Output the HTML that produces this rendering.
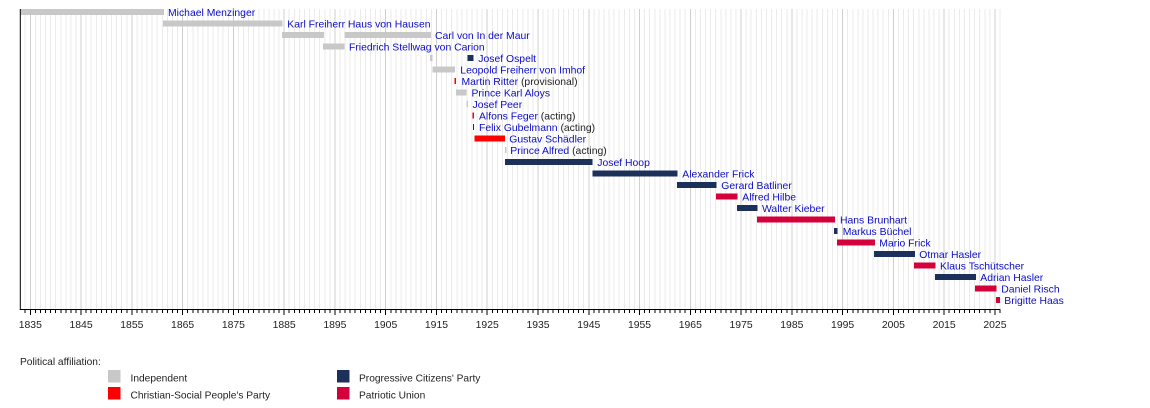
<!DOCTYPE html>
<html>
<head>
<meta charset="utf-8">
<style>
html,body{margin:0;padding:0;background:#fff;}
body{width:1150px;height:408px;overflow:hidden;}
svg{display:block;}
text{font-family:"Liberation Sans",Arial,sans-serif;}
.n{fill:#0c0cc8;font-size:10.4px;}
.s{fill:#222;}
.t{fill:#222;font-size:10.4px;}
.l{fill:#222;font-size:10.2px;}
</style>
</head>
<body>
<svg width="1150" height="408" viewBox="0 0 1150 408" xmlns="http://www.w3.org/2000/svg">
<rect width="1150" height="408" fill="#fff"/>
<!-- minor grid -->
<path shape-rendering="crispEdges" stroke="#ebebeb" stroke-width="1" fill="none" d="M25.23 9v300
m5.077-300v300m5.077-300v300m5.077-300v300m5.077-300v300m5.077-300v300m5.077-300v300m5.077-300v300m5.077-300v300
m5.077-300v300m5.077-300v300m5.077-300v300m5.077-300v300m5.077-300v300m5.077-300v300m5.077-300v300m5.077-300v300
m5.077-300v300m5.077-300v300m5.077-300v300m5.077-300v300m5.077-300v300m5.077-300v300m5.077-300v300m5.077-300v300
m5.077-300v300m5.077-300v300m5.077-300v300m5.077-300v300m5.077-300v300m5.077-300v300m5.077-300v300m5.077-300v300
m5.077-300v300m5.077-300v300m5.077-300v300m5.077-300v300m5.077-300v300m5.077-300v300m5.077-300v300m5.077-300v300
m5.077-300v300m5.077-300v300m5.077-300v300m5.077-300v300m5.077-300v300m5.077-300v300m5.077-300v300m5.077-300v300
m5.077-300v300m5.077-300v300m5.077-300v300m5.077-300v300m5.077-300v300m5.077-300v300m5.077-300v300m5.077-300v300
m5.077-300v300m5.077-300v300m5.077-300v300m5.077-300v300m5.077-300v300m5.077-300v300m5.077-300v300m5.077-300v300
m5.077-300v300m5.077-300v300m5.077-300v300m5.077-300v300m5.077-300v300m5.077-300v300m5.077-300v300m5.077-300v300
m5.077-300v300m5.077-300v300m5.077-300v300m5.077-300v300m5.077-300v300m5.077-300v300m5.077-300v300m5.077-300v300
m5.077-300v300m5.077-300v300m5.077-300v300m5.077-300v300m5.077-300v300m5.077-300v300m5.077-300v300m5.077-300v300
m5.077-300v300m5.077-300v300m5.077-300v300m5.077-300v300m5.077-300v300m5.077-300v300m5.077-300v300m5.077-300v300
m5.077-300v300m5.077-300v300m5.077-300v300m5.077-300v300m5.077-300v300m5.077-300v300m5.077-300v300m5.077-300v300
m5.077-300v300m5.077-300v300m5.077-300v300m5.077-300v300m5.077-300v300m5.077-300v300m5.077-300v300m5.077-300v300
m5.077-300v300m5.077-300v300m5.077-300v300m5.077-300v300m5.077-300v300m5.077-300v300m5.077-300v300m5.077-300v300
m5.077-300v300m5.077-300v300m5.077-300v300m5.077-300v300m5.077-300v300m5.077-300v300m5.077-300v300m5.077-300v300
m5.077-300v300m5.077-300v300m5.077-300v300m5.077-300v300m5.077-300v300m5.077-300v300m5.077-300v300m5.077-300v300
m5.077-300v300m5.077-300v300m5.077-300v300m5.077-300v300m5.077-300v300m5.077-300v300m5.077-300v300m5.077-300v300
m5.077-300v300m5.077-300v300m5.077-300v300m5.077-300v300m5.077-300v300m5.077-300v300m5.077-300v300m5.077-300v300
m5.077-300v300m5.077-300v300m5.077-300v300m5.077-300v300m5.077-300v300m5.077-300v300m5.077-300v300m5.077-300v300
m5.077-300v300m5.077-300v300m5.077-300v300m5.077-300v300m5.077-300v300m5.077-300v300m5.077-300v300m5.077-300v300
m5.077-300v300m5.077-300v300m5.077-300v300m5.077-300v300m5.077-300v300m5.077-300v300m5.077-300v300m5.077-300v300
m5.077-300v300m5.077-300v300m5.077-300v300m5.077-300v300m5.077-300v300m5.077-300v300m5.077-300v300m5.077-300v300
m5.077-300v300m5.077-300v300m5.077-300v300m5.077-300v300m5.077-300v300m5.077-300v300m5.077-300v300m5.077-300v300"/>
<!-- major grid -->
<path shape-rendering="crispEdges" stroke="#cfcfcf" stroke-width="1" fill="none" d="M30.3 9v300m50.77-300v300m50.77-300v300m50.77-300v300m50.77-300v300m50.77-300v300m50.77-300v300m50.77-300v300m50.77-300v300m50.77-300v300m50.77-300v300m50.77-300v300m50.77-300v300m50.77-300v300m50.77-300v300m50.77-300v300m50.77-300v300m50.77-300v300m50.77-300v300m50.77-300v300"/>

<!-- bars -->
<g shape-rendering="crispEdges">
<rect x="20.2" y="9" width="143.8" height="6" fill="#c8c8c8"/>
<rect x="163" y="20.52" width="119.7" height="6" fill="#c8c8c8"/>
<rect x="282" y="32.04" width="42" height="6" fill="#c8c8c8"/>
<rect x="344.7" y="32.04" width="86.3" height="6" fill="#c8c8c8"/>
<rect x="323" y="43.56" width="21.3" height="6" fill="#c8c8c8"/>
<rect x="430" y="55.08" width="2.3" height="6" fill="#c8c8c8"/>
<rect x="467.7" y="55.08" width="5.6" height="6" fill="#1c315a"/>
<rect x="432.3" y="66.6" width="22.7" height="6" fill="#c8c8c8"/>
<rect x="454.7" y="78.12" width="1.5" height="6" fill="#ff0000"/>
<rect x="456" y="89.64" width="10.7" height="6" fill="#c8c8c8"/>
<rect x="466.7" y="101.16" width="1.4" height="6" fill="#c8c8c8"/>
<rect x="472.7" y="112.68" width="1.4" height="6" fill="#ff0000"/>
<rect x="473.2" y="124.2" width="1" height="6" fill="#1c315a"/>
<rect x="474.3" y="135.72" width="30.7" height="6" fill="#ff0000"/>
<rect x="505" y="147.24" width="1.7" height="6" fill="#c8c8c8"/>
<rect x="505" y="158.76" width="87.7" height="6" fill="#1c315a"/>
<rect x="592.3" y="170.28" width="85.4" height="6" fill="#1c315a"/>
<rect x="677" y="181.8" width="39.7" height="6" fill="#1c315a"/>
<rect x="716" y="193.32" width="21.7" height="6" fill="#d4003c"/>
<rect x="737" y="204.84" width="20.7" height="6" fill="#1c315a"/>
<rect x="757" y="216.36" width="78" height="6" fill="#d4003c"/>
<rect x="834" y="227.88" width="3.7" height="6" fill="#1c315a"/>
<rect x="837" y="239.4" width="38" height="6" fill="#d4003c"/>
<rect x="874" y="250.92" width="41" height="6" fill="#1c315a"/>
<rect x="914" y="262.44" width="21.7" height="6" fill="#d4003c"/>
<rect x="935" y="273.96" width="41" height="6" fill="#1c315a"/>
<rect x="975" y="285.48" width="21.7" height="6" fill="#d4003c"/>
<rect x="996" y="297" width="4" height="6" fill="#d4003c"/>
</g>

<!-- axes -->
<rect x="19.8" y="9" width="1" height="301" fill="#000"/>
<rect x="19.8" y="309" width="980.6" height="1" fill="#000"/>
<path shape-rendering="crispEdges" stroke="#000" stroke-width="1" fill="none" d="M25.23 310v3
m5.077-3v3m5.077-3v3m5.077-3v3m5.077-3v3m5.077-3v3m5.077-3v3m5.077-3v3m5.077-3v3
m5.077-3v3m5.077-3v3m5.077-3v3m5.077-3v3m5.077-3v3m5.077-3v3m5.077-3v3m5.077-3v3
m5.077-3v3m5.077-3v3m5.077-3v3m5.077-3v3m5.077-3v3m5.077-3v3m5.077-3v3m5.077-3v3
m5.077-3v3m5.077-3v3m5.077-3v3m5.077-3v3m5.077-3v3m5.077-3v3m5.077-3v3m5.077-3v3
m5.077-3v3m5.077-3v3m5.077-3v3m5.077-3v3m5.077-3v3m5.077-3v3m5.077-3v3m5.077-3v3
m5.077-3v3m5.077-3v3m5.077-3v3m5.077-3v3m5.077-3v3m5.077-3v3m5.077-3v3m5.077-3v3
m5.077-3v3m5.077-3v3m5.077-3v3m5.077-3v3m5.077-3v3m5.077-3v3m5.077-3v3m5.077-3v3
m5.077-3v3m5.077-3v3m5.077-3v3m5.077-3v3m5.077-3v3m5.077-3v3m5.077-3v3m5.077-3v3
m5.077-3v3m5.077-3v3m5.077-3v3m5.077-3v3m5.077-3v3m5.077-3v3m5.077-3v3m5.077-3v3
m5.077-3v3m5.077-3v3m5.077-3v3m5.077-3v3m5.077-3v3m5.077-3v3m5.077-3v3m5.077-3v3
m5.077-3v3m5.077-3v3m5.077-3v3m5.077-3v3m5.077-3v3m5.077-3v3m5.077-3v3m5.077-3v3
m5.077-3v3m5.077-3v3m5.077-3v3m5.077-3v3m5.077-3v3m5.077-3v3m5.077-3v3m5.077-3v3
m5.077-3v3m5.077-3v3m5.077-3v3m5.077-3v3m5.077-3v3m5.077-3v3m5.077-3v3m5.077-3v3
m5.077-3v3m5.077-3v3m5.077-3v3m5.077-3v3m5.077-3v3m5.077-3v3m5.077-3v3m5.077-3v3
m5.077-3v3m5.077-3v3m5.077-3v3m5.077-3v3m5.077-3v3m5.077-3v3m5.077-3v3m5.077-3v3
m5.077-3v3m5.077-3v3m5.077-3v3m5.077-3v3m5.077-3v3m5.077-3v3m5.077-3v3m5.077-3v3
m5.077-3v3m5.077-3v3m5.077-3v3m5.077-3v3m5.077-3v3m5.077-3v3m5.077-3v3m5.077-3v3
m5.077-3v3m5.077-3v3m5.077-3v3m5.077-3v3m5.077-3v3m5.077-3v3m5.077-3v3m5.077-3v3
m5.077-3v3m5.077-3v3m5.077-3v3m5.077-3v3m5.077-3v3m5.077-3v3m5.077-3v3m5.077-3v3
m5.077-3v3m5.077-3v3m5.077-3v3m5.077-3v3m5.077-3v3m5.077-3v3m5.077-3v3m5.077-3v3
m5.077-3v3m5.077-3v3m5.077-3v3m5.077-3v3m5.077-3v3m5.077-3v3m5.077-3v3m5.077-3v3
m5.077-3v3m5.077-3v3m5.077-3v3m5.077-3v3m5.077-3v3m5.077-3v3m5.077-3v3m5.077-3v3
m5.077-3v3m5.077-3v3m5.077-3v3m5.077-3v3m5.077-3v3m5.077-3v3m5.077-3v3m5.077-3v3
m5.077-3v3m5.077-3v3m5.077-3v3m5.077-3v3m5.077-3v3m5.077-3v3m5.077-3v3m5.077-3v3"/>
<path shape-rendering="crispEdges" stroke="#000" stroke-width="1" fill="none" d="M30.3 310v5m50.77-5v5m50.77-5v5m50.77-5v5m50.77-5v5m50.77-5v5m50.77-5v5m50.77-5v5m50.77-5v5m50.77-5v5m50.77-5v5m50.77-5v5m50.77-5v5m50.77-5v5m50.77-5v5m50.77-5v5m50.77-5v5m50.77-5v5m50.77-5v5m50.77-5v5"/>

<!-- tick labels -->
<g class="t" text-anchor="middle">
<text x="30.3" y="328">1835</text>
<text x="81.07" y="328">1845</text>
<text x="131.84" y="328">1855</text>
<text x="182.61" y="328">1865</text>
<text x="233.38" y="328">1875</text>
<text x="284.15" y="328">1885</text>
<text x="334.92" y="328">1895</text>
<text x="385.69" y="328">1905</text>
<text x="436.46" y="328">1915</text>
<text x="487.23" y="328">1925</text>
<text x="538" y="328">1935</text>
<text x="588.77" y="328">1945</text>
<text x="639.54" y="328">1955</text>
<text x="690.31" y="328">1965</text>
<text x="741.08" y="328">1975</text>
<text x="791.85" y="328">1985</text>
<text x="842.62" y="328">1995</text>
<text x="893.39" y="328">2005</text>
<text x="944.16" y="328">2015</text>
<text x="994.93" y="328">2025</text>
</g>

<!-- name labels -->
<g class="n">
<text x="168" y="16">Michael Menzinger</text>
<text x="287.3" y="27.52">Karl Freiherr Haus von Hausen</text>
<text x="435" y="39.04">Carl von In der Maur</text>
<text x="349" y="50.56">Friedrich Stellwag von Carion</text>
<text x="478.3" y="62.08">Josef Ospelt</text>
<text x="460.3" y="73.6">Leopold Freiherr von Imhof</text>
<text x="461.5" y="85.12">Martin Ritter <tspan class="s">(provisional)</tspan></text>
<text x="471.5" y="96.64">Prince Karl Aloys</text>
<text x="472.5" y="108.16">Josef Peer</text>
<text x="479" y="119.68">Alfons Feger <tspan class="s">(acting)</tspan></text>
<text x="479" y="131.2">Felix Gubelmann <tspan class="s">(acting)</tspan></text>
<text x="509.3" y="142.72">Gustav Schädler</text>
<text x="510.3" y="154.24">Prince Alfred <tspan class="s">(acting)</tspan></text>
<text x="597.3" y="165.76">Josef Hoop</text>
<text x="682.3" y="177.28">Alexander Frick</text>
<text x="721.3" y="188.8">Gerard Batliner</text>
<text x="742.3" y="200.32">Alfred Hilbe</text>
<text x="762" y="211.84">Walter Kieber</text>
<text x="840" y="223.36">Hans Brunhart</text>
<text x="842.7" y="234.88">Markus Büchel</text>
<text x="879.3" y="246.4">Mario Frick</text>
<text x="919.3" y="257.92">Otmar Hasler</text>
<text x="940" y="269.44">Klaus Tschütscher</text>
<text x="980.3" y="280.96">Adrian Hasler</text>
<text x="1001.3" y="292.48">Daniel Risch</text>
<text x="1004.3" y="304">Brigitte Haas</text>
</g>

<!-- legend -->
<text class="l" x="20" y="365">Political affiliation:</text>
<rect x="108" y="370" width="12.5" height="12.5" fill="#c8c8c8"/>
<text class="l" x="130.5" y="381.5">Independent</text>
<rect x="108" y="387" width="12.5" height="12.5" fill="#ff0000"/>
<text class="l" x="130.5" y="398.5">Christian-Social People's Party</text>
<rect x="337" y="370" width="12.5" height="12.5" fill="#1c315a"/>
<text class="l" x="359" y="381.5">Progressive Citizens' Party</text>
<rect x="337" y="387" width="12.5" height="12.5" fill="#d4003c"/>
<text class="l" x="359" y="398.5">Patriotic Union</text>
</svg>
</body>
</html>
